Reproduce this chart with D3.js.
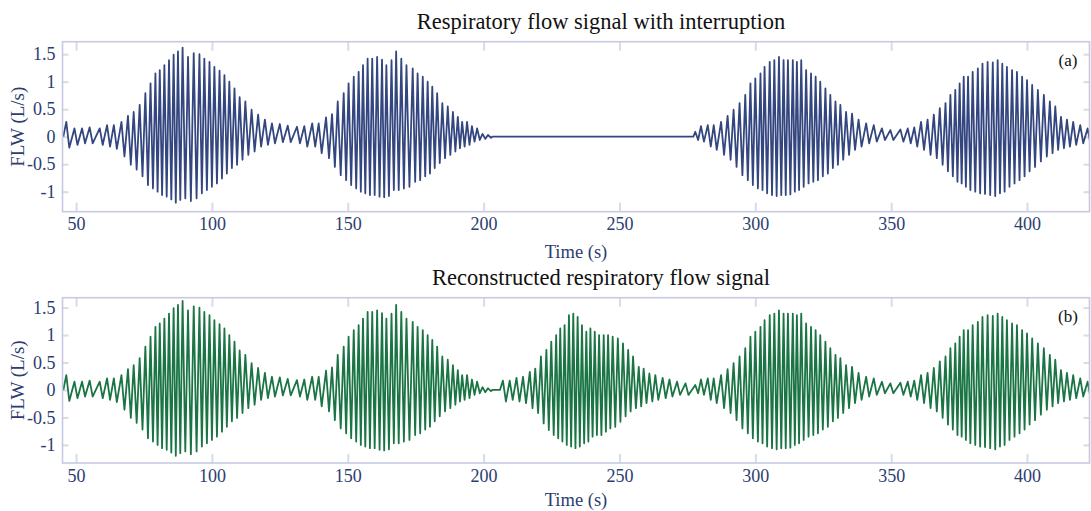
<!DOCTYPE html>
<html>
<head>
<meta charset="utf-8">
<script src="https://cdn.jsdelivr.net/npm/d3@7"></script>
<style>
  body { margin: 0; background: #fff; }
  svg { display: block; }
  text { font-family: "Liberation Serif", "Times New Roman", serif; }
</style>
</head>
<body>
<script>
// ---- data ----
// recorded flow: one entry per breath (time of the inspiratory peak, peak and trough flow)
var breathTime = [46.4, 49.4, 52.2, 55.0, 58.7, 61.4, 63.9, 66.7, 69.1, 71.2, 73.4, 75.5, 77.4, 79.2, 80.8,
  82.5, 84.2, 85.9, 87.5, 89.2, 91.2, 93.3, 95.4, 97.2, 99.1, 100.9, 102.8, 104.6, 106.4, 108.3,
  110.2, 112.3, 114.6, 117.0, 119.5, 122.1, 125.0, 127.9, 131.3, 134.0, 136.9, 139.3, 142.0, 144.2,
  146.3, 148.5, 150.3, 152.2, 154.0, 155.6, 157.3, 159.0, 160.8, 162.6, 164.2, 166.1, 167.8, 169.7,
  171.6, 173.9, 175.7, 177.6, 179.4, 181.1, 182.9, 184.8, 186.8, 188.7, 190.5, 192.1, 193.9, 195.7,
  197.6, 199.6, 201.6,
  277.9, 280.0, 282.5, 284.7, 287.4, 289.8, 292.0, 294.2, 296.3, 298.2, 300.0, 301.9, 303.4, 305.3,
  307.0, 308.7, 310.4, 312.0, 313.8, 315.3, 316.9, 318.7, 320.5, 322.2, 323.9, 325.8, 327.6, 329.5,
  331.3, 333.4, 335.6, 338.0, 340.8, 343.6, 346.6, 349.7, 353.4, 356.1, 358.5, 361.0, 363.4, 365.7,
  367.9, 370.0, 371.8, 373.6, 375.2, 376.7, 378.3, 380.0, 381.9, 383.6, 385.5, 387.4, 389.2, 390.9,
  392.6, 394.5, 396.3, 398.2, 400.0, 401.9, 404.0, 406.2, 408.4, 410.4, 412.5, 414.7, 417.0, 419.6, 422.3];
var peakFlow = [0.27, 0.15, 0.15, 0.17, 0.15, 0.21, 0.21, 0.27, 0.38, 0.45, 0.58, 0.79, 0.97, 1.15, 1.21,
  1.30, 1.39, 1.49, 1.55, 1.62, 1.45, 1.52, 1.50, 1.42, 1.36, 1.27, 1.20, 1.12, 1.00, 0.88,
  0.72, 0.64, 0.49, 0.40, 0.31, 0.24, 0.23, 0.20, 0.18, 0.19, 0.24, 0.24, 0.35, 0.41,
  0.64, 0.79, 0.97, 1.09, 1.18, 1.30, 1.42, 1.42, 1.45, 1.40, 1.30, 1.39, 1.55, 1.42,
  1.30, 1.24, 1.15, 1.09, 1.00, 0.91, 0.79, 0.61, 0.55, 0.45, 0.36, 0.27, 0.27, 0.19,
  0.15, 0.05, 0.03,
  0.09, 0.19, 0.21, 0.21, 0.27, 0.38, 0.49, 0.61, 0.76, 0.97, 1.06, 1.15, 1.27, 1.36,
  1.39, 1.45, 1.39, 1.39, 1.39, 1.36, 1.39, 1.21, 1.15, 1.09, 1.00, 0.88, 0.76, 0.64,
  0.58, 0.45, 0.42, 0.31, 0.24, 0.21, 0.15, 0.12, 0.13, 0.15, 0.17, 0.27, 0.31, 0.40,
  0.52, 0.61, 0.76, 0.85, 0.97, 1.09, 1.09, 1.18, 1.24, 1.33, 1.36, 1.35, 1.39, 1.33,
  1.27, 1.21, 1.18, 1.09, 1.03, 0.94, 0.85, 0.76, 0.64, 0.55, 0.36, 0.31, 0.27, 0.21, 0.15];
var troughFlow = [-0.20, -0.15, -0.12, -0.12, -0.15, -0.18, -0.22, -0.36, -0.51, -0.60, -0.72, -0.88, -0.94, -1.00, -1.06,
  -1.09, -1.14, -1.20, -1.15, -1.12, -1.17, -1.12, -1.03, -0.97, -0.91, -0.85, -0.76, -0.67, -0.57, -0.51,
  -0.42, -0.33, -0.27, -0.18, -0.15, -0.12, -0.10, -0.10, -0.12, -0.18, -0.18, -0.30, -0.39, -0.55,
  -0.70, -0.79, -0.88, -0.94, -1.00, -1.03, -1.06, -1.06, -1.09, -1.10, -1.08, -0.97, -0.97, -0.94,
  -0.91, -0.82, -0.79, -0.72, -0.67, -0.57, -0.48, -0.39, -0.33, -0.27, -0.21, -0.18, -0.15, -0.09,
  -0.06, -0.04, -0.02,
  -0.06, -0.09, -0.18, -0.24, -0.33, -0.42, -0.55, -0.70, -0.79, -0.88, -0.94, -0.97, -1.03, -1.06,
  -1.08, -1.06, -1.06, -1.05, -1.00, -0.97, -0.91, -0.85, -0.82, -0.79, -0.72, -0.67, -0.57, -0.51,
  -0.42, -0.33, -0.24, -0.18, -0.12, -0.09, -0.06, -0.06, -0.09, -0.12, -0.18, -0.24, -0.33, -0.39,
  -0.51, -0.63, -0.72, -0.82, -0.85, -0.91, -0.97, -1.00, -1.03, -1.04, -1.06, -1.08, -1.03, -1.00,
  -0.91, -0.85, -0.79, -0.72, -0.63, -0.55, -0.45, -0.36, -0.30, -0.24, -0.21, -0.18, -0.15, -0.12, -0.12];

// the interruption (flow is zero in between)
var gapStart = 203.2;
var gapEnd = 277.2;

// breaths filled in by the reconstruction
var reconTime = [207.1, 209.6, 212.1, 214.5, 217.0, 219.0, 221.1, 223.1, 224.9, 226.7, 228.2, 229.8,
  231.4, 233.0, 234.6, 236.2, 237.8, 239.3, 240.9, 242.5, 244.2, 245.8, 247.5, 249.4, 251.3,
  253.2, 255.0, 257.1, 258.9, 261.0, 263.2, 265.9, 268.4, 271.2, 274.3];
var reconPeak = [0.17, 0.17, 0.22, 0.24, 0.33, 0.39, 0.61, 0.73, 0.88, 1.00, 1.12, 1.18,
  1.36, 1.39, 1.33, 1.18, 1.06, 1.12, 1.06, 1.00, 1.00, 1.00, 0.97, 0.94, 0.85,
  0.73, 0.61, 0.42, 0.39, 0.30, 0.27, 0.22, 0.19, 0.15, 0.12];
var reconTrough = [-0.21, -0.18, -0.21, -0.24, -0.33, -0.42, -0.61, -0.73, -0.82, -0.88, -0.94, -1.00,
  -1.03, -1.06, -1.03, -0.97, -0.94, -0.85, -0.82, -0.82, -0.76, -0.70, -0.67, -0.58, -0.48,
  -0.39, -0.33, -0.30, -0.24, -0.21, -0.18, -0.15, -0.12, -0.09, -0.09];

var xTicks = [50, 100, 150, 200, 250, 300, 350, 400];
var yTicks = [-1, -0.5, 0, 0.5, 1, 1.5];

// ---- drawing ----
var W = 1091, H = 511;
var left = 62.5, right = 1089.5;
var svg = d3.select("body").append("svg").attr("width", W).attr("height", H);
var x = d3.scaleLinear().domain([45, 423]).range([left, right]);

function breathsOf(times, peaks, troughs) {
  return times.map(function (t, i) { return { t: t, p: peaks[i], q: troughs[i] }; });
}

// turn breaths into a peak / trough polyline, with zero anchors for flat stretches
function signalPoints(breaths, zeros) {
  breaths.sort(function (a, b) { return a.t - b.t; });
  var pts = [];
  breaths.forEach(function (b, i) {
    var next = i + 1 < breaths.length ? breaths[i + 1].t : b.t + 2;
    var half = Math.min((next - b.t) / 2, 1.1);
    pts.push([b.t, b.p], [b.t + half, b.q]);
  });
  zeros.forEach(function (t) { pts.push([t, 0]); });
  pts.sort(function (a, b) { return a[0] - b[0]; });
  return pts;
}

var recorded = breathsOf(breathTime, peakFlow, troughFlow);
var reconstructed = recorded.filter(function (b) { return b.t < gapStart || b.t > gapEnd; })
  .concat(breathsOf(reconTime, reconPeak, reconTrough));

var panels = [
  { id: "a", title: "Respiratory flow signal with interruption", titleY: 29, top: 41.7, bottom: 211.7,
    yDomain: [-1.364, 1.727], labelY: 258, color: "#34467f",
    points: signalPoints(recorded, [45.3, gapStart, gapEnd]) },
  { id: "b", title: "Reconstructed respiratory flow signal", titleY: 285, top: 297.7, bottom: 463,
    yDomain: [-1.33, 1.68], labelY: 506, color: "#1b7444",
    points: signalPoints(reconstructed, [45.3, gapStart, 206.0]) }
];

var axisColor = "#2c3d6f";
var frameColor = "#c7cae2";
var markColor = "#d9dbe6";

panels.forEach(function (cfg) {
  var y = d3.scaleLinear().domain(cfg.yDomain).range([cfg.bottom, cfg.top]);
  var g = svg.append("g");

  g.append("text")
    .attr("x", 601).attr("y", cfg.titleY)
    .attr("text-anchor", "middle").attr("font-size", 22.5).attr("fill", "#111")
    .text(cfg.title);

  // faint inner tick marks on all four sides
  var marks = [
    [d3.axisBottom(x).tickValues(xTicks).tickSize(-9), "translate(0," + cfg.bottom + ")"],
    [d3.axisTop(x).tickValues(xTicks).tickSize(-9), "translate(0," + cfg.top + ")"],
    [d3.axisLeft(y).tickValues(yTicks).tickSize(-6), "translate(" + left + ",0)"],
    [d3.axisRight(y).tickValues(yTicks).tickSize(-6), "translate(" + right + ",0)"]
  ];
  marks.forEach(function (m) {
    var a = g.append("g").attr("transform", m[1]).call(m[0].tickFormat(""));
    a.select(".domain").remove();
    a.selectAll("line").attr("stroke", markColor).attr("stroke-width", 2);
  });

  // signal
  var clipId = "clip-" + cfg.id;
  svg.append("clipPath").attr("id", clipId).append("rect")
    .attr("x", left).attr("y", cfg.top).attr("width", right - left).attr("height", cfg.bottom - cfg.top);
  g.append("path")
    .datum(cfg.points)
    .attr("clip-path", "url(#" + clipId + ")")
    .attr("fill", "none")
    .attr("stroke", cfg.color)
    .attr("stroke-width", 1.8)
    .attr("stroke-linejoin", "round")
    .attr("d", d3.line().x(function (d) { return x(d[0]); }).y(function (d) { return y(d[1]); })
      .curve(d3.curveLinear));

  // frame
  g.append("rect")
    .attr("x", left).attr("y", cfg.top).attr("width", right - left).attr("height", cfg.bottom - cfg.top)
    .attr("fill", "none").attr("stroke", frameColor).attr("stroke-width", 1.6);

  // tick labels
  var xa = g.append("g").attr("transform", "translate(0," + cfg.bottom + ")")
    .call(d3.axisBottom(x).tickValues(xTicks).tickSize(0).tickPadding(6));
  var ya = g.append("g").attr("transform", "translate(" + left + ",0)")
    .call(d3.axisLeft(y).tickValues(yTicks).tickSize(0).tickPadding(7)
      .tickFormat(function (d) { return String(d); }));
  [xa, ya].forEach(function (a) {
    a.select(".domain").remove();
    a.selectAll("text").attr("font-size", 18).attr("fill", axisColor)
      .attr("font-family", "'Liberation Serif', 'Times New Roman', serif");
  });

  // axis titles
  g.append("text")
    .attr("x", (left + right) / 2).attr("y", cfg.labelY)
    .attr("text-anchor", "middle").attr("font-size", 18.5).attr("fill", axisColor)
    .text("Time (s)");
  g.append("text")
    .attr("transform", "translate(24," + ((cfg.top + cfg.bottom) / 2) + ") rotate(-90)")
    .attr("text-anchor", "middle").attr("font-size", 19).attr("fill", axisColor)
    .text("FLW (L/s)");

  // panel tag
  g.append("text")
    .attr("x", 1068).attr("y", cfg.top + 24)
    .attr("text-anchor", "middle").attr("font-size", 17).attr("fill", "#111")
    .text("(" + cfg.id + ")");
});
</script>
</body>
</html>
